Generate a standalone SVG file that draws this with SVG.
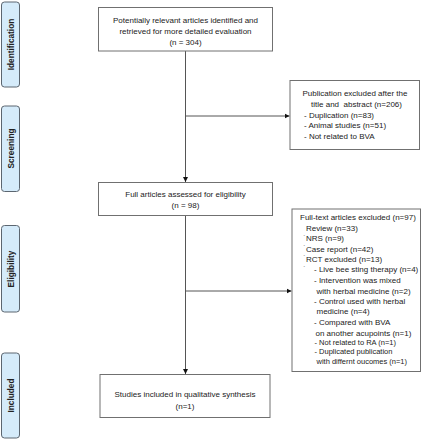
<svg xmlns="http://www.w3.org/2000/svg" width="422" height="440" viewBox="0 0 422 440">
<defs>
<marker id="arr" markerWidth="6" markerHeight="6" refX="5" refY="3" orient="auto" markerUnits="userSpaceOnUse">
<path d="M0,0.5 L5,3 L0,5.5 Z" fill="#111"/>
</marker>
<style>
.box{fill:#fff;stroke:#707070;stroke-width:1}
.lab{fill:#d5ebfa;stroke:#5c6670;stroke-width:1}
.t{font-family:"Liberation Sans",Arial,sans-serif;font-size:8px;fill:#222}
.c{text-anchor:middle}
.s{font-size:7.5px}
.lt{font-family:"Liberation Sans",Arial,sans-serif;font-size:8.3px;font-weight:bold;fill:#222;text-anchor:middle}
.tick{font-family:"Liberation Sans",Arial,sans-serif;font-size:6px;fill:#444}
.ln{fill:none;stroke:#555;stroke-width:1}
</style>
</defs>
<rect width="422" height="440" fill="#fff"/>

<g id="stage-identification">
<rect class="lab" x="1.5" y="2" width="18" height="85" rx="3"/>
<text class="lt" transform="translate(13.5,44.5) rotate(-90)">Identification</text>
</g>
<g id="stage-screening">
<rect class="lab" x="1.5" y="106" width="18" height="85.5" rx="3"/>
<text class="lt" transform="translate(13.5,148.5) rotate(-90)">Screening</text>
</g>
<g id="stage-eligibility">
<rect class="lab" x="1.5" y="225.5" width="18" height="86.5" rx="3"/>
<text class="lt" transform="translate(13.5,269) rotate(-90)">Eligibility</text>
</g>
<g id="stage-included">
<rect class="lab" x="1.5" y="353" width="18" height="85" rx="3"/>
<text class="lt" transform="translate(13.5,395.5) rotate(-90)">Included</text>
</g>

<g id="connectors">
<line class="ln" x1="185.5" y1="51" x2="185.5" y2="182" marker-end="url(#arr)"/>
<line class="ln" x1="185.5" y1="116" x2="289.5" y2="116" marker-end="url(#arr)"/>
<line class="ln" x1="185.5" y1="215.5" x2="185.5" y2="374" marker-end="url(#arr)"/>
<line class="ln" x1="185.5" y1="291" x2="291.5" y2="291" marker-end="url(#arr)"/>
</g>

<g id="n-identified">
<rect class="box" x="98.5" y="7.5" width="174" height="43.5"/>
<text class="t c" x="185.5" y="22.5">Potentially relevant articles identified and</text>
<text class="t c" x="185.5" y="33.5">retrieved for more detailed evaluation</text>
<text class="t c" x="185.5" y="45">(n = 304)</text>
</g>

<g id="n-excluded-screening">
<rect class="box" x="290" y="80.5" width="129.5" height="69"/>
<text class="t c" x="355" y="95.5">Publication excluded after the</text>
<text class="t c" x="356.5" y="106.5" xml:space="preserve">title and  abstract (n=206)</text>
<text class="t" x="304" y="117.5">- Duplication (n=83)</text>
<text class="t" x="304" y="128.3">- Animal studies (n=51)</text>
<text class="t" x="304" y="139">- Not related to BVA</text>
</g>

<g id="n-fulltext">
<rect class="box" x="98.5" y="182.5" width="174" height="33"/>
<text class="t c" x="185.5" y="197.3">Full articles assessed for eligibility</text>
<text class="t c" x="185.5" y="208">(n = 98)</text>
</g>

<g id="n-excluded-eligibility">
<rect class="box" x="292" y="209" width="128.5" height="162.5"/>
<text class="t" x="300" y="220.3">Full-text articles excluded (n=97)</text>
<text class="t" x="306" y="231">Review (n=33)</text>
<text class="tick" x="303.2" y="238.5">`</text>
<text class="t" x="306" y="241.3">NRS (n=9)</text>
<text class="tick" x="303.2" y="248.9">`</text>
<text class="t" x="306" y="251.7">Case report (n=42)</text>
<text class="tick" x="303.2" y="259.2">`</text>
<text class="t" x="306" y="262">RCT excluded (n=13)</text>
<text class="tick" x="303.2" y="269.5">`</text>
<text class="t" x="314" y="272.3">- Live bee sting therapy (n=4)</text>
<text class="t" x="314" y="283">- Intervention was mixed</text>
<text class="t" x="316.5" y="293.7">with herbal medicine (n=2)</text>
<text class="t" x="314" y="304">- Control used with herbal</text>
<text class="t" x="316.5" y="314.3">medicine (n=4)</text>
<text class="t" x="314" y="325">- Compared with BVA</text>
<text class="t" x="315.5" y="335.7">on another acupoints (n=1)</text>
<text class="t s" x="314.5" y="345">- Not related to RA (n=1)</text>
<text class="t s" x="314.5" y="354.3">- Duplicated publication</text>
<text class="t s" x="316.5" y="364">with differnt oucomes (n=1)</text>
</g>

<g id="n-included">
<rect class="box" x="100" y="374.5" width="170" height="43"/>
<text class="t c" x="185" y="396.7">Studies included in qualitative synthesis</text>
<text class="t c" x="185" y="408.7">(n=1)</text>
</g>
</svg>
